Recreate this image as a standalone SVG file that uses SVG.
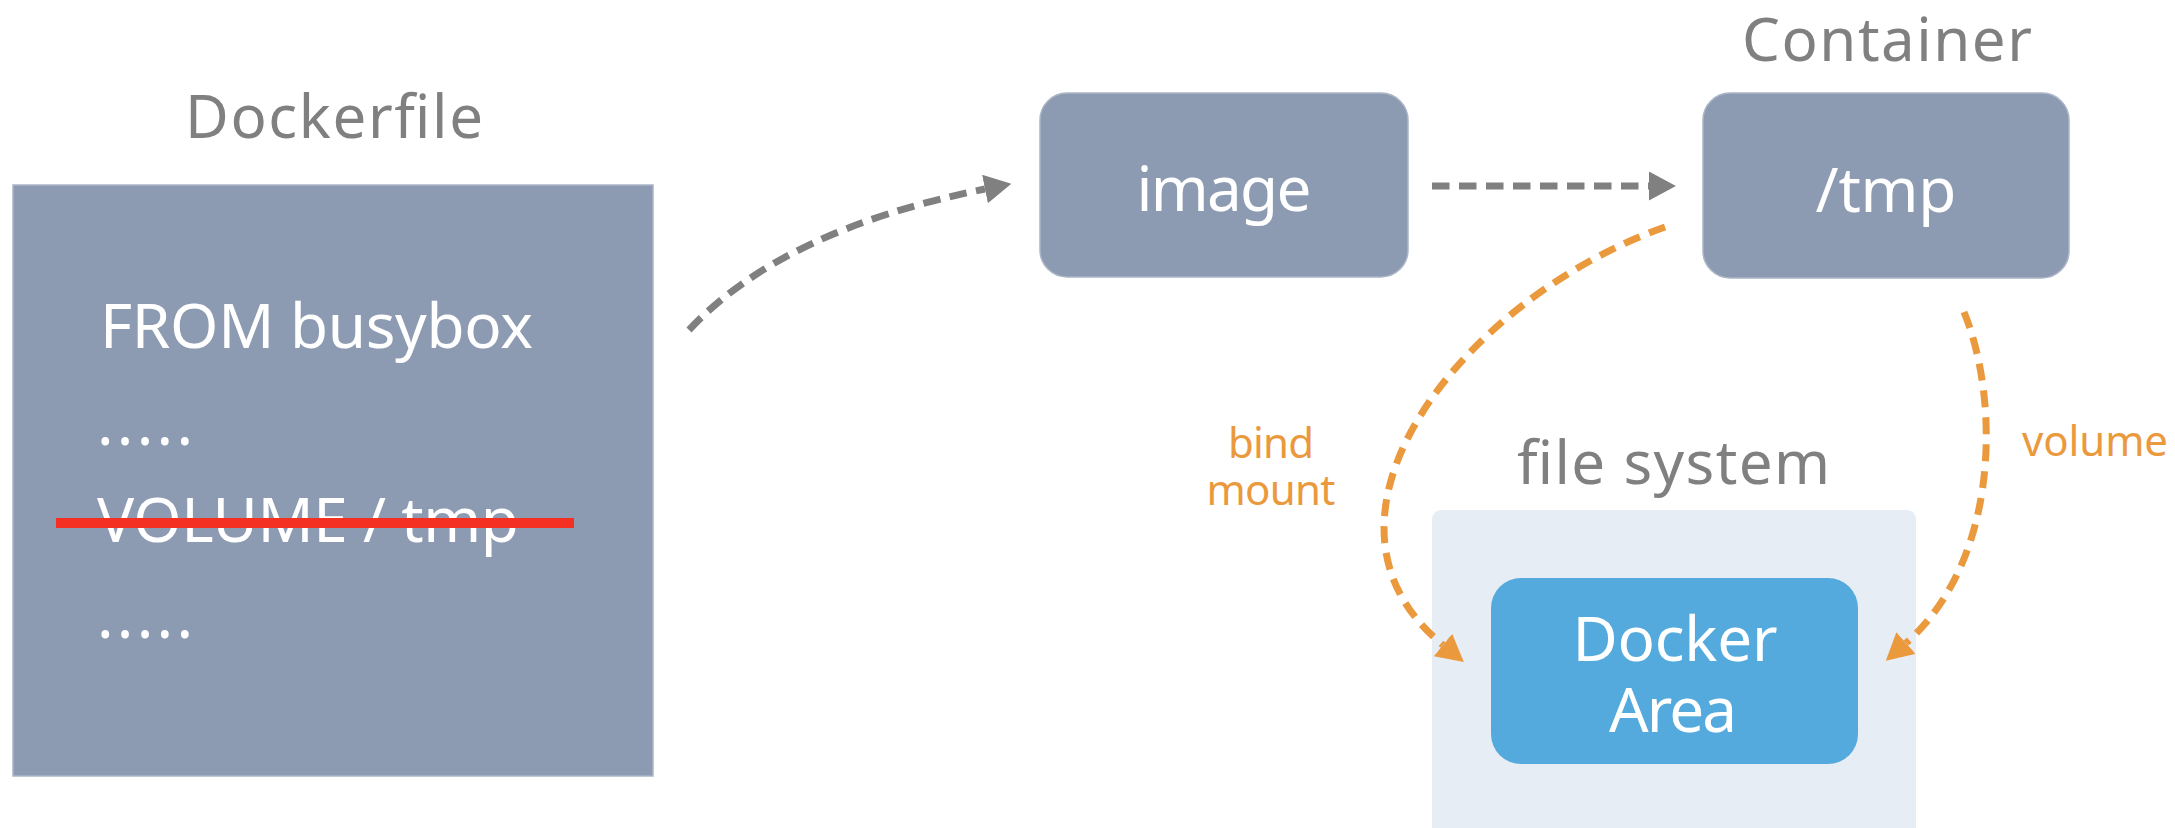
<svg xmlns="http://www.w3.org/2000/svg" width="2175" height="828" viewBox="0 0 2175 828">
<style>
.t{font-family:"Noto Sans","Open Sans","DejaVu Sans",sans-serif}
.title{fill:#808080;font-size:60px}
.w{fill:#ffffff;font-size:62px}
.o{fill:#ea993d;font-size:42px}
.node{fill:#8d9bb2;stroke:#aab5c6;stroke-width:1.5}
.dg{fill:none;stroke:#808080;stroke-width:7;stroke-dasharray:17.5 9.5}
.do{fill:none;stroke:#ea993d;stroke-width:7;stroke-dasharray:17 10}
</style>
<defs>
<marker id="ag" markerUnits="userSpaceOnUse" markerWidth="27" markerHeight="29" viewBox="0 0 26 28" refX="0" refY="14" orient="auto"><path d="M0,0 L26,14 L0,28 Z" fill="#808080"/></marker>
<marker id="ao" markerUnits="userSpaceOnUse" markerWidth="27" markerHeight="29" viewBox="0 0 26 28" refX="0" refY="14" orient="auto"><path d="M0,0 L26,14 L0,28 Z" fill="#ea993d"/></marker>
</defs>

<g id="dockerfile">
<text class="t title" x="185" y="138" textLength="298" lengthAdjust="spacing">Dockerfile</text>
<rect class="node" x="13" y="185" width="640" height="591"/>
<text class="t w" x="100" y="348" textLength="433" lengthAdjust="spacing">FROM busybox</text>
<text class="t w" x="97" y="445" textLength="96" lengthAdjust="spacing">.....</text>
<text class="t w" x="97" y="542" textLength="422" lengthAdjust="spacing">VOLUME / tmp</text>
<rect x="56" y="518" width="518" height="10" fill="#f33022"/>
<text class="t w" x="97" y="638" textLength="96" lengthAdjust="spacing">.....</text>
</g>

<g id="image">
<rect class="node" x="1040" y="93" width="368" height="184" rx="27"/>
<text class="t w" x="1224" y="211" text-anchor="middle" textLength="175" lengthAdjust="spacing">image</text>
</g>

<g id="container">
<text class="t title" x="1742" y="61" textLength="290" lengthAdjust="spacing">Container</text>
<rect class="node" x="1703" y="93" width="366" height="185" rx="27"/>
<text class="t w" x="1886" y="212" text-anchor="middle" textLength="141" lengthAdjust="spacing">/tmp</text>
</g>

<g id="filesystem">
<text class="t title" x="1517" y="484" textLength="313" lengthAdjust="spacing">file system</text>
<rect x="1432" y="510" width="484" height="330" rx="9" fill="#e6edf5"/>
</g>

<g id="dockerarea">
<rect x="1491" y="578" width="367" height="186" rx="30" fill="#54aadc"/>
<text class="t w" x="1675" y="661" text-anchor="middle" textLength="205" lengthAdjust="spacing">Docker</text>
<text class="t w" x="1673" y="732" text-anchor="middle" textLength="128" lengthAdjust="spacing">Area</text>
</g>

<g id="connectors">
<path class="dg" d="M689,330 Q782,230 985,189" marker-end="url(#ag)"/>
<path class="dg" d="M1432,186 L1649,186" marker-end="url(#ag)"/>
<path class="do" d="M1665,227 C1460,300 1290,520 1443,645" marker-end="url(#ao)"/>
<path class="do" d="M1964,312 C2000,400 2000,560 1906,643" marker-end="url(#ao)"/>
<text class="t o" x="1271" y="458" text-anchor="middle" textLength="86" lengthAdjust="spacing">bind</text>
<text class="t o" x="1271" y="505" text-anchor="middle" textLength="129" lengthAdjust="spacing">mount</text>
<text class="t o" x="2022" y="456" textLength="146" lengthAdjust="spacing">volume</text>
</g>
</svg>
